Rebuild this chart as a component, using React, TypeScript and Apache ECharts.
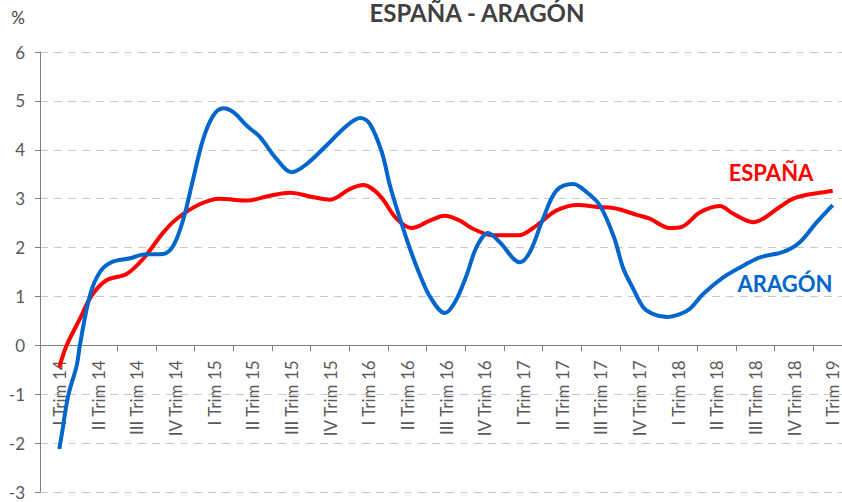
import React, { useEffect, useRef } from "react";
import * as echarts from "echarts";

const categories = [
  "I Trim 14", "II Trim 14", "III Trim 14", "IV Trim 14",
  "I Trim 15", "II Trim 15", "III Trim 15", "IV Trim 15",
  "I Trim 16", "II Trim 16", "III Trim 16", "IV Trim 16",
  "I Trim 17", "II Trim 17", "III Trim 17", "IV Trim 17",
  "I Trim 18", "II Trim 18", "III Trim 18", "IV Trim 18",
  "I Trim 19",
];

// [position in quarters from I Trim 14, value %]
const espana: [number, number][] = [
  [0, -0.45], [0.19, 0], [0.53, 0.54], [0.84, 1.02], [1.22, 1.33], [1.74, 1.46],
  [2.17, 1.77], [2.69, 2.31], [3.04, 2.59], [3.64, 2.89], [4.15, 3.0], [4.85, 2.96],
  [5.45, 3.06], [5.97, 3.12], [6.57, 3.03], [7.0, 2.98], [7.52, 3.2], [7.86, 3.28],
  [8.29, 3.06], [8.72, 2.59], [9.11, 2.4], [9.58, 2.55], [9.97, 2.65], [10.36, 2.55],
  [10.71, 2.38], [11.22, 2.25], [11.87, 2.25], [12.34, 2.45], [12.86, 2.76], [13.42, 2.87],
  [13.9, 2.83], [14.33, 2.81], [14.93, 2.67], [15.27, 2.59], [15.79, 2.4], [16.09, 2.42],
  [16.57, 2.72], [17.08, 2.85], [17.43, 2.69], [17.94, 2.52], [18.2, 2.59], [18.63, 2.83],
  [18.98, 3.0], [19.41, 3.09], [19.76, 3.13], [20, 3.16],
];

const aragon: [number, number][] = [
  [0, -2.12], [0.06, -1.84], [0.23, -1.03], [0.45, -0.41], [0.53, 0.0], [0.79, 1.02],
  [1.05, 1.5], [1.35, 1.7], [1.83, 1.78], [2.17, 1.86], [2.69, 1.87], [2.95, 2.04],
  [3.21, 2.59], [3.46, 3.4], [3.72, 4.22], [3.98, 4.7], [4.24, 4.85], [4.5, 4.77],
  [4.85, 4.49], [5.19, 4.26], [5.62, 3.81], [6.01, 3.54], [6.4, 3.71], [7.0, 4.16],
  [7.43, 4.49], [7.78, 4.65], [8.03, 4.53], [8.34, 3.95], [8.55, 3.27], [8.81, 2.59],
  [9.07, 1.97], [9.33, 1.43], [9.59, 0.99], [9.97, 0.66], [10.23, 0.88], [10.53, 1.43],
  [10.79, 2.01], [11.09, 2.3], [11.39, 2.11], [11.91, 1.7], [12.17, 1.91], [12.51, 2.59],
  [12.86, 3.17], [13.29, 3.3], [13.64, 3.13], [13.98, 2.86], [14.34, 2.22], [14.59, 1.56],
  [14.84, 1.16], [15.1, 0.78], [15.36, 0.64], [15.71, 0.58], [16.05, 0.64], [16.31, 0.75],
  [16.65, 1.05], [17.17, 1.39], [17.69, 1.63], [18.12, 1.8], [18.72, 1.91], [19.15, 2.11],
  [19.59, 2.52], [20, 2.87],
];

const yMin = -3;
const yMax = 6;

const GRID_TOP = 52;
const GRID_HEIGHT = 440;
// distance from the bottom of the plot up to the zero line
const zeroOffset = -(GRID_HEIGHT * (0 - yMin)) / (yMax - yMin);

export default function App() {
  const ref = useRef<HTMLDivElement>(null);

  useEffect(() => {
    document.body.style.margin = "0";
    if (!ref.current) return;
    const chart = echarts.init(ref.current, null, { renderer: "svg" });
    const font = "Lato, 'Noto Sans', sans-serif";
    chart.setOption({
      animation: false,
      backgroundColor: "#ffffff",
      grid: {
        left: 40,
        top: GRID_TOP,
        width: 812,
        height: GRID_HEIGHT,
        containLabel: false,
        outerBoundsMode: "none",
      },
      xAxis: [
        {
          type: "category",
          data: categories,
          position: "bottom",
          offset: zeroOffset,
          axisLine: {
            onZero: false,
            lineStyle: { color: "#7f7f7f", width: 1 },
          },
          axisTick: { show: true, interval: 0, length: 6, lineStyle: { color: "#7f7f7f" } },
          axisLabel: {
            interval: 0,
            rotate: 90,
            margin: 15,
            fontSize: 17,
            lineHeight: 14,
            color: "#595959",
            fontFamily: font,
          },
          splitLine: { show: false },
        },
        {
          type: "value",
          min: -0.5,
          max: categories.length - 0.5,
          show: false,
          axisLine: { onZero: false },
        },
      ],
      yAxis: {
        type: "value",
        min: yMin,
        max: yMax,
        interval: 1,
        axisLine: { show: true, onZero: false, lineStyle: { color: "#7f7f7f", width: 1 } },
        axisTick: { show: true, length: 5, lineStyle: { color: "#7f7f7f" } },
        axisLabel: { fontSize: 17, color: "#595959", fontFamily: font, margin: 15 },
        splitLine: { show: true, lineStyle: { color: "#c8c8c8", type: [8, 6], width: 1 } },
      },
      graphic: [
        {
          type: "text",
          x: 477,
          y: 12,
          style: {
            text: "ESPAÑA - ARAGÓN",
            font: "bold 24px Lato, sans-serif",
            fill: "#404040",
            align: "center",
            verticalAlign: "middle",
          },
        },
        {
          type: "text",
          x: 18,
          y: 17,
          style: {
            text: "%",
            font: "17px Lato, sans-serif",
            fill: "#404040",
            align: "center",
            verticalAlign: "middle",
          },
        },
        {
          type: "text",
          x: 771,
          y: 172,
          z: 10,
          style: {
            text: "ESPAÑA",
            font: "bold 22px Lato, sans-serif",
            fill: "#ff0000",
            align: "center",
            verticalAlign: "middle",
          },
        },
        {
          type: "text",
          x: 785,
          y: 283,
          z: 10,
          style: {
            text: "ARAGÓN",
            font: "bold 22px Lato, sans-serif",
            fill: "#0066cc",
            align: "center",
            verticalAlign: "middle",
          },
        },
      ],
      series: [
        {
          name: "ESPAÑA",
          type: "line",
          xAxisIndex: 1,
          data: espana,
          smooth: 0.35,
          showSymbol: false,
          symbol: "none",
          lineStyle: { color: "#ff0000", width: 4 },
          z: 3,
        },
        {
          name: "ARAGÓN",
          type: "line",
          xAxisIndex: 1,
          data: aragon,
          smooth: 0.35,
          showSymbol: false,
          symbol: "none",
          lineStyle: { color: "#0066cc", width: 4 },
          z: 4,
        },
      ],
    });
    return () => chart.dispose();
  }, []);

  return <div ref={ref} style={{ width: 842, height: 502 }} />;
}
